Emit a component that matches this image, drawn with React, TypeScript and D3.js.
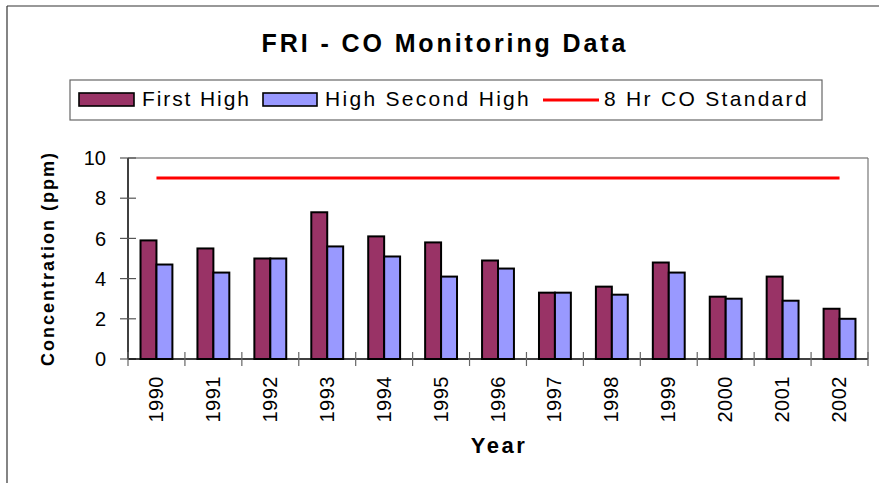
import React from "react";
import * as d3 from "d3";

const years = ["1990","1991","1992","1993","1994","1995","1996","1997","1998","1999","2000","2001","2002"];
const firstHigh = [5.9, 5.5, 5.0, 7.3, 6.1, 5.8, 4.9, 3.3, 3.6, 4.8, 3.1, 4.1, 2.5];
const secondHigh = [4.7, 4.3, 5.0, 5.6, 5.1, 4.1, 4.5, 3.3, 3.2, 4.3, 3.0, 2.9, 2.0];
const standard = 9;
const yTicks = [0, 2, 4, 6, 8, 10];
const seriesNames = ["First High", "High Second High", "8 Hr CO Standard"];
const colors = ["#993366", "#9999FF", "#FF0000"];

const W = 879, H = 483;
const plot = { x0: 128, x1: 868, y0: 158, y1: 359 };
const FONT = "Arial, 'Liberation Sans', sans-serif";

export default function App() {
  const x = d3.scaleBand<string>().domain(years).range([plot.x0, plot.x1]).paddingInner(0.44).paddingOuter(0.22);
  const xs = d3.scaleBand<string>().domain(["a", "b"]).range([0, x.bandwidth()]);
  const y = d3.scaleLinear().domain([0, 10]).range([plot.y1, plot.y0]);
  const step = x.step();
  const boundaries = d3.range(years.length + 1).map(i => plot.x0 + i * step);
  const lineGen = d3.line<number>().x((_, i) => (x(years[i]) as number) + x.bandwidth() / 2).y(d => y(d));
  const stdLine = lineGen(years.map(() => standard)) as string;

  return (
    <svg width={W} height={H} style={{ position: "absolute", left: 0, top: 0, background: "#fff" }} fontFamily={FONT}>
      <rect x={0} y={0} width={W} height={H} fill="#fff" />
      {/* outer chart frame */}
      <line x1={7} y1={6} x2={W} y2={6} stroke="#333" strokeWidth={1.2} />
      <line x1={7} y1={6} x2={7} y2={H} stroke="#333" strokeWidth={1.2} />

      {/* title */}
      <text x={445} y={52} textAnchor="middle" fontSize={25} fontWeight="bold" letterSpacing={2.9} fill="#000">FRI - CO Monitoring Data</text>

      {/* legend */}
      <rect x={70} y={80} width={752} height={40} fill="#fff" stroke="#666" strokeWidth={1.2} />
      <rect x={79} y={93} width={55} height={13} fill={colors[0]} stroke="#000" strokeWidth={1.6} />
      <text x={142} y={106} fontSize={21} letterSpacing={1.9} fill="#000">{seriesNames[0]}</text>
      <rect x={263} y={93} width={54} height={13} fill={colors[1]} stroke="#000" strokeWidth={1.6} />
      <text x={325} y={106} fontSize={21} letterSpacing={2.3} fill="#000">{seriesNames[1]}</text>
      <line x1={543} x2={599} y1={100} y2={100} stroke={colors[2]} strokeWidth={3} />
      <text x={604} y={106} fontSize={21} letterSpacing={2.3} fill="#000">{seriesNames[2]}</text>

      {/* plot frame top/right */}
      <line x1={plot.x0} y1={plot.y0} x2={plot.x1} y2={plot.y0} stroke="#555" strokeWidth={1.2} />
      <line x1={plot.x1} y1={plot.y0} x2={plot.x1} y2={plot.y1} stroke="#777" strokeWidth={1.2} />

      {/* bars */}
      {years.map((yr, i) => (
        <g key={yr}>
          <rect x={(x(yr) as number) + (xs("a") as number)} y={y(firstHigh[i])} width={xs.bandwidth()} height={y(0) - y(firstHigh[i])} fill={colors[0]} stroke="#000" strokeWidth={2} />
          <rect x={(x(yr) as number) + (xs("b") as number)} y={y(secondHigh[i])} width={xs.bandwidth()} height={y(0) - y(secondHigh[i])} fill={colors[1]} stroke="#000" strokeWidth={2} />
        </g>
      ))}

      {/* standard line */}
      <path d={stdLine} fill="none" stroke={colors[2]} strokeWidth={3} />

      {/* y axis */}
      <line x1={plot.x0} y1={plot.y0} x2={plot.x0} y2={plot.y1} stroke="#000" strokeWidth={1.5} />
      {yTicks.map(t => (
        <g key={t}>
          <line x1={plot.x0 - 8} x2={plot.x0 + 8} y1={y(t)} y2={y(t)} stroke="#555" strokeWidth={1.2} />
          <text x={106} y={y(t)} dy="0.36em" textAnchor="end" fontSize={20} fill="#000">{t}</text>
        </g>
      ))}
      <text transform={`translate(54,${(plot.y0 + plot.y1) / 2}) rotate(-90)`} textAnchor="middle" fontSize={18} fontWeight="bold" letterSpacing={2} fill="#000">Concentration (ppm)</text>

      {/* x axis */}
      <line x1={plot.x0} y1={plot.y1} x2={plot.x1} y2={plot.y1} stroke="#000" strokeWidth={1.5} />
      {boundaries.map((b, i) => (
        <line key={i} x1={b} x2={b} y1={plot.y1 - 7} y2={plot.y1 + 7} stroke="#666" strokeWidth={1.2} />
      ))}
      {years.map(yr => (
        <text key={yr} transform={`translate(${(x(yr) as number) + x.bandwidth() / 2 + 6.5},376) rotate(-90)`} textAnchor="end" fontSize={20} letterSpacing={0.5} fill="#000">{yr}</text>
      ))}
      <text x={499} y={453} textAnchor="middle" fontSize={22} fontWeight="bold" letterSpacing={2.5} fill="#000">Year</text>
    </svg>
  );
}
